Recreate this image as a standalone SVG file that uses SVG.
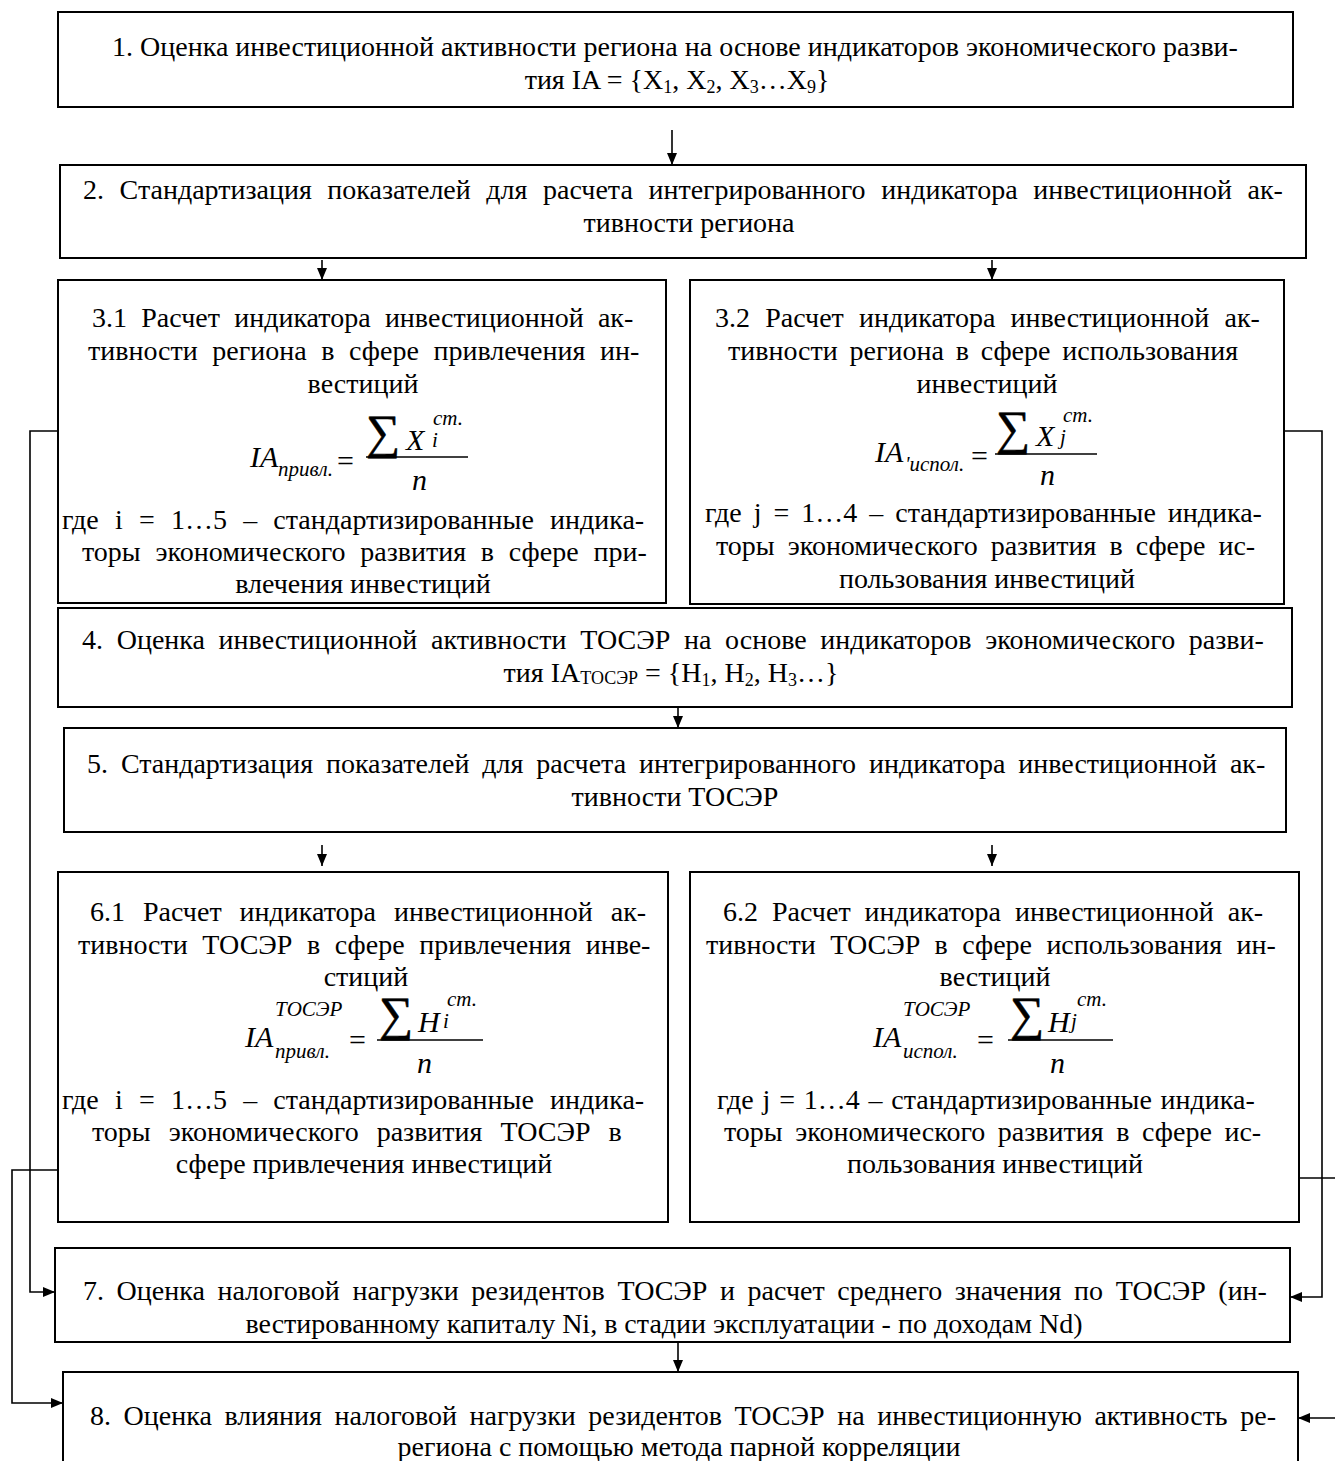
<svg xmlns="http://www.w3.org/2000/svg" width="1335" height="1461" viewBox="0 0 1335 1461">
<defs>
<marker id="ah" viewBox="0 0 12 10" refX="12" refY="5" markerWidth="12" markerHeight="10" markerUnits="userSpaceOnUse" orient="auto">
<path d="M0,0 L12,5 L0,10 Z" fill="#000"/>
</marker>
<style>
.box{fill:#fff;stroke:#000;stroke-width:2}
.t{font-family:"Liberation Serif","Times New Roman",serif;font-size:28px;fill:#000;text-anchor:middle}
.j{text-anchor:start}
.m{font-family:"Liberation Serif","Times New Roman",serif;font-style:italic;fill:#000}
.big{font-size:30px}
.sm{font-size:21px}
.sym{font-family:"Liberation Serif","DejaVu Serif",serif;font-size:48px;fill:#000;stroke:#000;stroke-width:0.6}
.eq{font-family:"Liberation Serif",serif;font-size:30px;fill:#000}
.conn{fill:none;stroke:#000;stroke-width:1.6}
.frac{stroke:#000;stroke-width:1.3}
</style>
</defs>
<rect width="1335" height="1461" fill="#fff"/>

<g id="connectors">
<path class="conn" d="M672,130 V165" marker-end="url(#ah)"/>
<path class="conn" d="M322,260 V280" marker-end="url(#ah)"/>
<path class="conn" d="M992,260 V280" marker-end="url(#ah)"/>
<path class="conn" d="M678,708 V728" marker-end="url(#ah)"/>
<path class="conn" d="M322,845 V866" marker-end="url(#ah)"/>
<path class="conn" d="M992,845 V866" marker-end="url(#ah)"/>
<path class="conn" d="M678,1343 V1372" marker-end="url(#ah)"/>
<path class="conn" d="M58,431 H30 V1292 H55" marker-end="url(#ah)"/>
<path class="conn" d="M58,1170 H12 V1403 H63" marker-end="url(#ah)"/>
<path class="conn" d="M1284,431 H1322 V1297 H1290" marker-end="url(#ah)"/>
<path class="conn" d="M1299,1178 H1335"/>
<path class="conn" d="M1335,1418 H1298" marker-end="url(#ah)"/>
</g>

<g id="node1">
<rect class="box" x="58" y="12" width="1235" height="95"/>
<text class="t" x="675" y="56">1. Оценка инвестиционной активности региона на основе индикаторов экономического разви-</text>
<text class="t" x="677" y="89">тия IA = {X<tspan font-size="18" dy="4">1</tspan><tspan dy="-4">, X</tspan><tspan font-size="18" dy="4">2</tspan><tspan dy="-4">, X</tspan><tspan font-size="18" dy="4">3</tspan><tspan dy="-4">…X</tspan><tspan font-size="18" dy="4">9</tspan><tspan dy="-4">}</tspan></text>
</g>

<g id="node2">
<rect class="box" x="60" y="165" width="1246" height="93"/>
<text class="t j" x="83" y="199" word-spacing="8.6">2. Стандартизация показателей для расчета интегрированного индикатора инвестиционной ак-</text>
<text class="t" x="689" y="232">тивности региона</text>
</g>

<g id="node3_1">
<rect class="box" x="58" y="280" width="608" height="323"/>
<text class="t j" x="92" y="327" word-spacing="7.3">3.1 Расчет индикатора инвестиционной ак-</text>
<text class="t j" x="88" y="360" word-spacing="7.6">тивности региона в сфере привлечения ин-</text>
<text class="t" x="363" y="393">вестиций</text>
<text class="m big" x="250" y="467">IA</text>
<text class="m sm" x="278" y="476">привл.</text>
<text class="eq" x="337" y="471">=</text>
<text class="sym" x="366" y="448">∑</text>
<text class="m big" x="406" y="450">X</text>
<text class="m sm" x="433" y="425">ст.</text>
<text class="m sm" x="432" y="447">i</text>
<line class="frac" x1="366" y1="457" x2="468" y2="457"/>
<text class="m big" x="412" y="490">n</text>
<text class="t j" x="62" y="529" word-spacing="9.2">где i = 1…5 – стандартизированные индика-</text>
<text class="t j" x="82" y="561" word-spacing="7.8">торы экономического развития в сфере при-</text>
<text class="t" x="363" y="593">влечения инвестиций</text>
</g>

<g id="node3_2">
<rect class="box" x="690" y="280" width="594" height="324"/>
<text class="t j" x="715" y="327" word-spacing="8.2">3.2 Расчет индикатора инвестиционной ак-</text>
<text class="t j" x="728" y="360" word-spacing="4.8">тивности региона в сфере использования</text>
<text class="t" x="987" y="393">инвестиций</text>
<text class="m big" x="875" y="462">IA</text>
<text class="m sm" x="905" y="471">'испол.</text>
<text class="eq" x="971" y="466">=</text>
<text class="sym" x="996" y="444">∑</text>
<text class="m big" x="1036" y="446">X</text>
<text class="m sm" x="1063" y="422">ст.</text>
<text class="m sm" x="1060" y="444">j</text>
<line class="frac" x1="995" y1="454" x2="1097" y2="454"/>
<text class="m big" x="1040" y="485">n</text>
<text class="t j" x="705" y="522" word-spacing="5">где j = 1…4 – стандартизированные индика-</text>
<text class="t j" x="716" y="555" word-spacing="6">торы экономического развития в сфере ис-</text>
<text class="t" x="987" y="588">пользования инвестиций</text>
</g>

<g id="node4">
<rect class="box" x="58" y="608" width="1234" height="99"/>
<text class="t j" x="82" y="649" word-spacing="6.7">4. Оценка инвестиционной активности ТОСЭР на основе индикаторов экономического разви-</text>
<text class="t" x="671" y="682">тия IA<tspan font-size="18" dy="2">ТОСЭР</tspan><tspan dy="-2"> = {H</tspan><tspan font-size="18" dy="4">1</tspan><tspan dy="-4">, H</tspan><tspan font-size="18" dy="4">2</tspan><tspan dy="-4">, H</tspan><tspan font-size="18" dy="4">3</tspan><tspan dy="-4">…}</tspan></text>
</g>

<g id="node5">
<rect class="box" x="64" y="728" width="1222" height="104"/>
<text class="t j" x="87" y="773" word-spacing="5.9">5. Стандартизация показателей для расчета интегрированного индикатора инвестиционной ак-</text>
<text class="t" x="675" y="806">тивности ТОСЭР</text>
</g>

<g id="node6_1">
<rect class="box" x="58" y="872" width="610" height="350"/>
<text class="t j" x="90" y="921" word-spacing="11">6.1 Расчет индикатора инвестиционной ак-</text>
<text class="t j" x="78" y="954" word-spacing="7.6">тивности ТОСЭР в сфере привлечения инве-</text>
<text class="t" x="366" y="986">стиций</text>
<text class="m big" x="245" y="1047">IA</text>
<text class="m sm" x="275" y="1016">ТОСЭР</text>
<text class="m sm" x="275" y="1058">привл.</text>
<text class="eq" x="349" y="1050">=</text>
<text class="sym" x="379" y="1030">∑</text>
<text class="m big" x="418" y="1032">H</text>
<text class="m sm" x="447" y="1006">ст.</text>
<text class="m sm" x="443" y="1028">i</text>
<line class="frac" x1="377" y1="1040" x2="483" y2="1040"/>
<text class="m big" x="417" y="1073">n</text>
<text class="t j" x="62" y="1109" word-spacing="9.2">где i = 1…5 – стандартизированные индика-</text>
<text class="t j" x="92" y="1141" word-spacing="11">торы экономического развития ТОСЭР в</text>
<text class="t" x="364" y="1173">сфере привлечения инвестиций</text>
</g>

<g id="node6_2">
<rect class="box" x="690" y="872" width="609" height="350"/>
<text class="t j" x="723" y="921" word-spacing="7">6.2 Расчет индикатора инвестиционной ак-</text>
<text class="t j" x="706" y="954" word-spacing="7.4">тивности ТОСЭР в сфере использования ин-</text>
<text class="t" x="995" y="986">вестиций</text>
<text class="m big" x="873" y="1047">IA</text>
<text class="m sm" x="903" y="1016">ТОСЭР</text>
<text class="m sm" x="903" y="1058">испол.</text>
<text class="eq" x="977" y="1050">=</text>
<text class="sym" x="1010" y="1030">∑</text>
<text class="m big" x="1048" y="1032">H</text>
<text class="m sm" x="1077" y="1006">ст.</text>
<text class="m sm" x="1071" y="1028">j</text>
<line class="frac" x1="1008" y1="1040" x2="1113" y2="1040"/>
<text class="m big" x="1050" y="1073">n</text>
<text class="t j" x="717" y="1109" word-spacing="1.8">где j = 1…4 – стандартизированные индика-</text>
<text class="t j" x="724" y="1141" word-spacing="5.6">торы экономического развития в сфере ис-</text>
<text class="t" x="995" y="1173">пользования инвестиций</text>
</g>

<g id="node7">
<rect class="box" x="55" y="1248" width="1235" height="94"/>
<text class="t j" x="83" y="1300" word-spacing="5.6">7. Оценка налоговой нагрузки резидентов ТОСЭР и расчет среднего значения по ТОСЭР (ин-</text>
<text class="t" x="664" y="1333">вестированному капиталу Ni, в стадии эксплуатации - по доходам Nd)</text>
</g>

<g id="node8">
<rect class="box" x="63" y="1372" width="1235" height="100"/>
<text class="t j" x="90" y="1425" word-spacing="5.6">8. Оценка влияния налоговой нагрузки резидентов ТОСЭР на инвестиционную активность ре-</text>
<text class="t" x="679" y="1456">региона с помощью метода парной корреляции</text>
</g>
</svg>
